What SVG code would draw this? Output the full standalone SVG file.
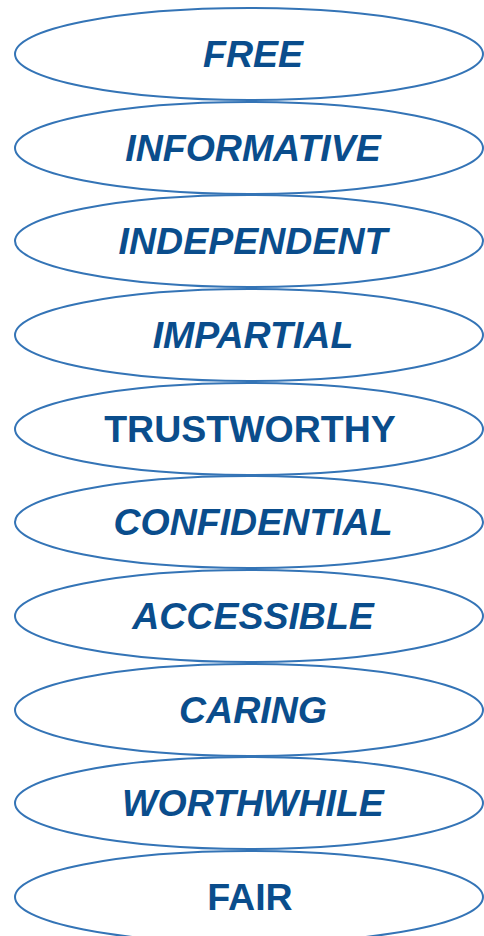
<svg xmlns="http://www.w3.org/2000/svg" width="484" height="936" viewBox="0 0 484 936">
<style>
.e{fill:none;stroke:#3474B6;stroke-width:2}
.t{font-family:"Liberation Sans",Arial,sans-serif;font-weight:bold;font-size:37.5px;fill:#0A4D8C;text-anchor:middle}
.i{font-style:italic}
</style>
<rect width="484" height="936" fill="#fff"/>
<g id="free"><ellipse class="e" cx="249" cy="54" rx="234" ry="46"/><text class="t i" x="253" y="67">FREE</text></g>
<g id="informative"><ellipse class="e" cx="249" cy="148" rx="234" ry="46"/><text class="t i" x="253" y="161">INFORMATIVE</text></g>
<g id="independent"><ellipse class="e" cx="249" cy="241" rx="234" ry="46"/><text class="t i" x="253" y="254">INDEPENDENT</text></g>
<g id="impartial"><ellipse class="e" cx="249" cy="335" rx="234" ry="46"/><text class="t i" x="253" y="348">IMPARTIAL</text></g>
<g id="trustworthy"><ellipse class="e" cx="249" cy="429" rx="234" ry="46"/><text class="t" x="250" y="442">TRUSTWORTHY</text></g>
<g id="confidential"><ellipse class="e" cx="249" cy="522" rx="234" ry="46"/><text class="t i" x="253" y="535">CONFIDENTIAL</text></g>
<g id="accessible"><ellipse class="e" cx="249" cy="616" rx="234" ry="46"/><text class="t i" x="253" y="629">ACCESSIBLE</text></g>
<g id="caring"><ellipse class="e" cx="249" cy="710" rx="234" ry="46"/><text class="t i" x="253" y="723">CARING</text></g>
<g id="worthwhile"><ellipse class="e" cx="249" cy="803" rx="234" ry="46"/><text class="t i" x="253" y="816">WORTHWHILE</text></g>
<g id="fair"><ellipse class="e" cx="249" cy="897" rx="234" ry="46"/><text class="t" x="250" y="910">FAIR</text></g>
<g id="connectors"/>
</svg>
